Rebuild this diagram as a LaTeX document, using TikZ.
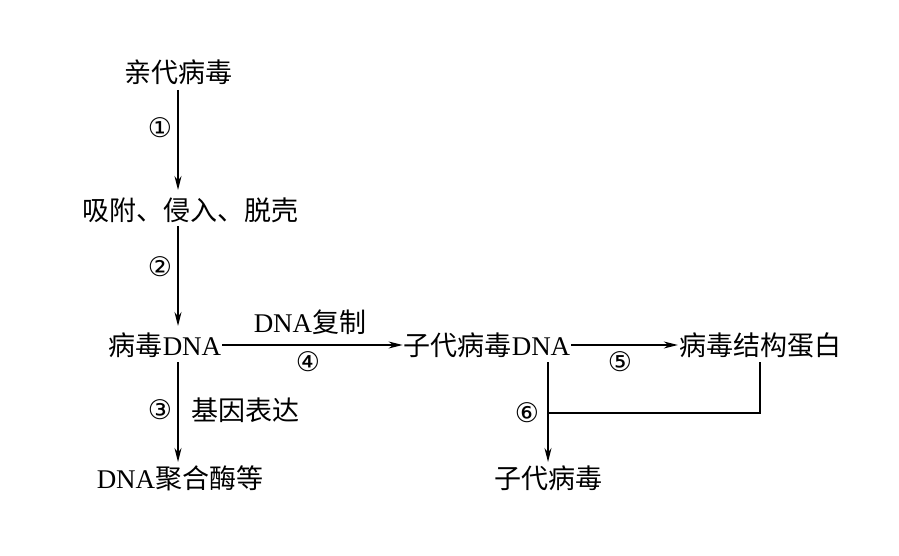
\documentclass[tikz,border=0pt]{standalone}
\usepackage{fontspec}
\setmainfont{Liberation Serif}
\newfontfamily\cjk{Noto Sans CJK SC}
\newfontfamily\dv{DejaVu Sans}
\usetikzlibrary{arrows.meta}
\begin{document}
\begin{tikzpicture}[x=1pt,y=-1pt,
  lbl/.style={font=\fontsize{27}{30}\selectfont, inner sep=1pt},
  num/.style={font=\dv\fontsize{27}{30}\selectfont, inner sep=0pt},
  arr/.style={line width=1.4pt,-{Stealth[length=14pt,width=7pt]}},
  ln/.style={line width=1.4pt}]
\useasboundingbox (0,0) rectangle (899,556);
\node[lbl] (p) at (178,72) {\cjk 亲代病毒};
\node[lbl] (a) at (190,210) {\cjk 吸附、侵入、脱壳};
\node[lbl] (d) at (165,345) {\cjk 病毒\rmfamily DNA};
\node[lbl] (z) at (487,345) {\cjk 子代病毒\rmfamily DNA};
\node[lbl] (s) at (760,345) {\cjk 病毒结构蛋白};
\node[lbl] (e) at (180,478) {DNA\cjk 聚合酶等};
\node[lbl] (c) at (548,478) {\cjk 子代病毒};
\coordinate (p1) at (178,90); \coordinate (p2) at (178,190);
\coordinate (a1) at (178,226); \coordinate (a2) at (178,326);
\coordinate (d1) at (178,362); \coordinate (d2) at (178,462);
\coordinate (z1) at (548,362); \coordinate (z2) at (548,462);
\coordinate (s1) at (760,362); \coordinate (s2) at (760,413); \coordinate (j) at (548,413);
\draw[arr] (d.east) -- (z.west);
\draw[arr] (p1) -- (p2);
\draw[arr] (a1) -- (a2);
\draw[arr] (z.east) -- (s.west);
\draw[arr] (d1) -- (d2);
\draw[arr] (z1) -- (z2);
\draw[ln] (s1) -- (s2) -- (j);
\node[num] (n1) at (160,128) {①};
\node[num] (n2) at (160,267) {②};
\node[num] (n3) at (160,410) {③};
\node[lbl] (g) at (245,410) {\cjk 基因表达};
\node[lbl] (r) at (310,322) {DNA\cjk 复制};
\node[num] (n4) at (308,362) {④};
\node[num] (n5) at (620,362) {⑤};
\node[num] (n6) at (527,413) {⑥};
\end{tikzpicture}
\end{document}
